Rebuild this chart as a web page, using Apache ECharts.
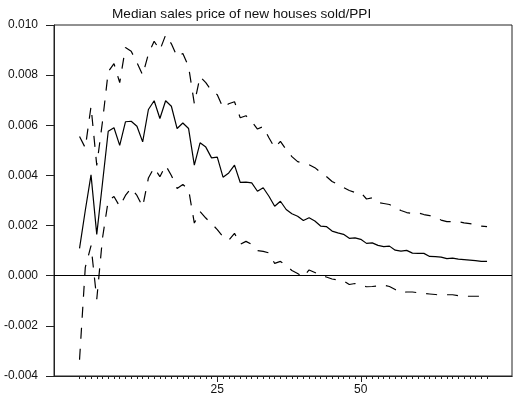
<!DOCTYPE html>
<html>
<head>
<meta charset="utf-8">
<script src="https://cdn.jsdelivr.net/npm/echarts@6/dist/echarts.min.js"></script>
<style>
  html, body { margin: 0; padding: 0; background: #fff; }
  #chart { width: 516px; height: 400px; }
</style>
</head>
<body>
<div id="chart"></div>
<script>
// Impulse response: median with upper / lower bands, horizon 1..72
const steps = Array.from({ length: 72 }, (_, i) => i + 1);

const median = [
  0.00109, 0.00260, 0.00402, 0.00165, 0.00370, 0.00576, 0.00590, 0.00520, 0.00614, 0.00616,
  0.00596, 0.00534, 0.00663, 0.00698, 0.00627, 0.00698, 0.00676, 0.00587, 0.00609, 0.00587,
  0.00441, 0.00530, 0.00513, 0.00470, 0.00473, 0.00393, 0.00410, 0.00441, 0.00372, 0.00373,
  0.00370, 0.00337, 0.00351, 0.00317, 0.00277, 0.00297, 0.00264, 0.00247, 0.00237, 0.00220,
  0.00231, 0.00218, 0.00198, 0.00196, 0.00178, 0.00171, 0.00165, 0.00149, 0.00151, 0.00145,
  0.00129, 0.00131, 0.00121, 0.00116, 0.00118, 0.00102, 0.00098, 0.00101, 0.00090, 0.00089,
  0.00089, 0.00077, 0.00076, 0.00074, 0.00068, 0.00070, 0.00066, 0.00064, 0.00062, 0.00060,
  0.00057, 0.00057
];

const upper = [
  0.00555, 0.00510, 0.00675, 0.00440, 0.00615, 0.00814, 0.00846, 0.00770, 0.00910, 0.00895,
  0.00850, 0.00800, 0.00885, 0.00935, 0.00900, 0.00960, 0.00925, 0.00873, 0.00886, 0.00834,
  0.00686, 0.00794, 0.00770, 0.00738, 0.00722, 0.00670, 0.00686, 0.00694, 0.00630, 0.00638,
  0.00615, 0.00585, 0.00595, 0.00550, 0.00510, 0.00536, 0.00503, 0.00475, 0.00455, 0.00449,
  0.00443, 0.00431, 0.00412, 0.00396, 0.00376, 0.00364, 0.00352, 0.00340, 0.00332, 0.00332,
  0.00306, 0.00311, 0.00292, 0.00288, 0.00284, 0.00272, 0.00260, 0.00252, 0.00248, 0.00251,
  0.00244, 0.00240, 0.00232, 0.00222, 0.00216, 0.00216, 0.00215, 0.00211, 0.00208, 0.00204,
  0.00198, 0.00196
];

const lower = [
  -0.00335, 0.00033, 0.00120, -0.00094, 0.00150, 0.00300, 0.00316, 0.00276, 0.00320, 0.00350,
  0.00320, 0.00275, 0.00390, 0.00431, 0.00395, 0.00440, 0.00400, 0.00348, 0.00364, 0.00344,
  0.00210, 0.00256, 0.00230, 0.00208, 0.00184, 0.00155, 0.00141, 0.00169, 0.00125, 0.00137,
  0.00125, 0.00100, 0.00097, 0.00091, 0.00049, 0.00057, 0.00041, 0.00021, 0.00009, -0.00005,
  0.00023, 0.00013, 0.00001, -0.00005, -0.00013, -0.00017, -0.00021, -0.00035, -0.00031, -0.00039,
  -0.00044, -0.00043, -0.00041, -0.00037, -0.00043, -0.00055, -0.00067, -0.00065, -0.00065, -0.00068,
  -0.00071, -0.00073, -0.00075, -0.00078, -0.00076, -0.00076, -0.00080, -0.00082, -0.00082, -0.00082,
  -0.00082, -0.00081
];

const majorTicks = [25, 50];
const titleText = 'Median sales price of new houses sold/PPI';

const FONT = '"Liberation Sans", Arial, Helvetica, sans-serif';
const pairs = (vals) => steps.map((s, i) => [s, vals[i]]);

const chart = echarts.init(document.getElementById('chart'), null, { renderer: 'canvas' });

const xCommon = {
  type: 'value',
  position: 'bottom',
  min: -3.45,
  max: 76.35,
  splitLine: { show: false },
  axisLine: { show: true, onZero: false, lineStyle: { color: '#222', width: 1 } }
};

chart.setOption({
  animation: false,
  backgroundColor: '#fff',
  title: {
    text: titleText,
    left: 107,
    top: 2,
    textStyle: { fontFamily: FONT, fontSize: 13.6, fontWeight: 'normal', color: '#111' }
  },
  grid: {
    left: 54, right: 4, top: 25, bottom: 24,
    show: true, borderColor: '#222', borderWidth: 1, backgroundColor: 'transparent'
  },
  xAxis: [
    Object.assign({}, xCommon, {
      axisTick: { show: true, length: 3, lineStyle: { color: '#222' }, customValues: steps },
      axisLabel: { show: false }
    }),
    Object.assign({}, xCommon, {
      offset: 0,
      axisTick: { show: true, length: 6, lineStyle: { color: '#222' }, customValues: majorTicks },
      axisLabel: {
        show: true, customValues: majorTicks, margin: 8,
        fontFamily: FONT, fontSize: 12, color: '#111'
      }
    })
  ],
  yAxis: {
    type: 'value',
    min: -0.004,
    max: 0.010,
    interval: 0.002,
    splitLine: { show: false },
    axisLine: { show: true, onZero: false, lineStyle: { color: '#222', width: 1 } },
    axisTick: { show: true, inside: false, length: 8, lineStyle: { color: '#222' } },
    axisLabel: {
      margin: 16, fontFamily: FONT, fontSize: 12, color: '#111',
      formatter: (v) => v.toFixed(3)
    }
  },
  series: [
    {
      name: 'median', type: 'line', data: pairs(median), xAxisIndex: 0,
      showSymbol: false, symbol: 'none',
      lineStyle: { color: '#000', width: 1.2, type: 'solid' },
      markLine: {
        silent: true, symbol: 'none', label: { show: false },
        lineStyle: { color: '#000', width: 1, type: 'solid' },
        data: [{ yAxis: 0 }]
      }
    },
    {
      name: 'upper', type: 'line', data: pairs(upper), xAxisIndex: 0,
      showSymbol: false, symbol: 'none',
      lineStyle: { color: '#000', width: 1.2, type: [11, 10] }
    },
    {
      name: 'lower', type: 'line', data: pairs(lower), xAxisIndex: 0,
      showSymbol: false, symbol: 'none',
      lineStyle: { color: '#000', width: 1.2, type: [11, 10] }
    }
  ]
});
</script>
</body>
</html>
